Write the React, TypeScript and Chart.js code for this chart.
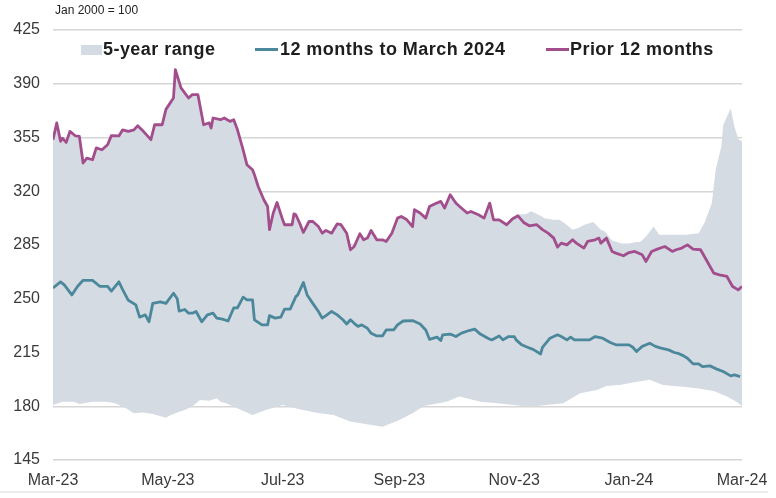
import React, { useEffect, useRef } from "react";
import { Chart, registerables } from "chart.js";

Chart.register(...registerables);

// x values are days since 1 Mar 2023
const tickDays = [0, 61, 122, 184, 245, 306, 366];
const tickLabels = ["Mar-23", "May-23", "Jul-23", "Sep-23", "Nov-23", "Jan-24", "Mar-24"];

const priorDays = [
  0, 2, 4, 5, 7, 9, 12, 14, 16, 18, 21, 23, 26, 29, 31, 35, 37, 40, 43, 45, 48, 52, 54, 58, 60, 64, 65, 68, 70, 72,
  74, 77, 80, 83, 84, 85, 89, 91, 94, 96, 98, 101, 103, 106, 107, 109, 112, 114, 115, 117, 119, 122, 123, 127, 128,
  129, 131, 133, 136, 138, 141, 143, 145, 148, 151, 153, 156, 158, 160, 163, 165, 167, 169, 172, 175, 177, 180, 183,
  185, 188, 191, 192, 195, 198, 200, 203, 206, 208, 211, 214, 216, 220, 222, 226, 229, 232, 234, 237, 241, 244, 247,
  250, 253, 257, 260, 263, 266, 268, 270, 273, 276, 278, 282, 284, 288, 290, 291, 294, 297, 299, 303, 306, 309, 313,
  315, 318, 321, 325, 329, 331, 334, 337, 340, 344, 347, 351, 354, 358, 361, 364, 366,
];
const priorValues = [
  353.6, 364.5, 352.5, 354.6, 351.8, 359, 356, 355.7, 338.4, 341.6, 340.5, 348.2, 347, 350.3, 356.2, 356, 360, 359,
  360, 362.7, 359, 353.6, 363.3, 363.3, 373.3, 380.7, 399.2, 387.3, 384, 380.7, 382.9, 382.9, 363.3, 364.5, 361.2,
  367.7, 366.6, 367.7, 365.5, 366.6, 360, 347, 337.3, 334, 330.8, 323.1, 314.5, 310.1, 295, 305.8, 312.7, 301.4, 298.2,
  298.2, 305.3, 304.7, 299.3, 293.2, 300.3, 300.3, 297, 292.7, 294.5, 292.7, 298.8, 298.2, 292.7, 281.9, 284, 292.3,
  288.4, 289.5, 294.5, 288.4, 288.4, 287.3, 292.7, 302.5, 303.6, 301.4, 297, 308, 305.8, 302.5, 310.1, 311.9, 313.4,
  309, 317.7, 312.3, 310.1, 305.8, 306.8, 304.7, 302.5, 312.3, 301.4, 301.4, 298.2, 301.9, 304, 299.7, 297.5, 298.2,
  295, 292.7, 289.5, 283.6, 286.2, 285.1, 288.4, 286.2, 283, 287.3, 288.4, 289.5, 286.2, 289.5, 280.8, 279.7, 278,
  280.1, 280.8, 278.6, 274.3, 280.8, 282.3, 284, 280.8, 281.9, 283, 285.1, 282.3, 281.9, 275.4, 266.7, 265.6, 264.5,
  258, 255.8, 258,
];

const recentDays = [
  0, 4, 6, 10, 13, 16, 21, 25, 29, 31, 35, 37, 40, 44, 46, 49, 51, 53, 57, 60, 64, 66, 67, 70, 72, 74, 76, 79, 82, 85,
  87, 90, 93, 96, 98, 101, 103, 106, 107, 111, 114, 115, 118, 121, 123, 126, 129, 130, 133, 135, 138, 141, 143, 145,
  148, 151, 154, 156, 158, 160, 162, 164, 167, 169, 172, 175, 177, 181, 183, 186, 191, 195, 198, 200, 204, 206, 207,
  211, 214, 217, 221, 224, 227, 231, 233, 237, 239, 242, 245, 246, 249, 252, 255, 259, 260, 264, 268, 270, 273, 275,
  277, 282, 285, 288, 292, 296, 299, 306, 308, 310, 313, 317, 320, 323, 327, 330, 332, 335, 337, 340, 343, 345, 349,
  353, 356, 360, 362, 365,
];
const recentValues = [
  257, 261, 259, 252.5, 258, 262, 262, 258, 258, 255, 261, 256, 249, 246, 238, 239.5, 235, 247, 248, 247, 253.6, 250,
  242, 243, 240.6, 240.6, 241.7, 235, 239.5, 240.6, 237.4, 236.7, 235.5, 244, 244, 251, 249.3, 249.3, 236.3, 233, 233,
  239, 237.4, 238, 243.2, 243.2, 251.4, 252.5, 260.6, 252.5, 247, 241.7, 237.4, 239, 241.7, 239.5, 236.3, 233.6,
  236.3, 234, 232, 233, 230.8, 227.5, 225.8, 225.8, 229.7, 229.7, 233, 235.5, 235.8, 233.6, 229.7, 223.6, 225, 222.8,
  226.5, 227, 225.4, 227.6, 229.3, 230.2, 227, 224.3, 223.2, 225.8, 223.2, 225.4, 225.4, 223.2, 220, 218.4, 217, 214,
  218.4, 224.3, 226.5, 225.4, 223.2, 225, 223.2, 223.2, 223.2, 225.4, 224.3, 221.5, 220, 220, 218.4, 215.6, 219, 221,
  219, 217.8, 216.7, 215, 214.5, 212.8, 211.3, 207.6, 207.6, 205.8, 206.3, 204, 202.6, 199.8, 200.4, 199.3,
];

// 5-year range: top edge follows the prior-year line until late October
const rangeHighDays = [
  0, 2, 4, 5, 7, 9, 12, 14, 16, 18, 21, 23, 26, 29, 31, 35, 37, 40, 43, 45, 48, 52, 54, 58, 60, 64, 65, 68, 70, 72,
  74, 77, 80, 83, 84, 85, 89, 91, 94, 96, 98, 101, 103, 106, 107, 109, 112, 114, 115, 117, 119, 122, 123, 127, 128,
  129, 131, 133, 136, 138, 141, 143, 145, 148, 151, 153, 156, 158, 160, 163, 165, 167, 169, 172, 175, 177, 180, 183,
  185, 188, 191, 192, 195, 198, 200, 203, 206, 208, 211, 214, 216, 220, 222, 226, 229, 232, 234, 237, 241, 244, 247,
  251, 254, 259, 261, 266, 269, 272, 276, 279, 282, 287, 291, 293, 297, 302, 306, 310, 312, 315, 319, 322, 329, 336,
  343, 346, 350, 352, 355, 356, 360, 362, 364, 366,
];
const rangeHighValues = [
  353.6, 364.5, 352.5, 354.6, 351.8, 359, 356, 355.7, 338.4, 341.6, 340.5, 348.2, 347, 350.3, 356.2, 356, 360, 359,
  360, 362.7, 359, 353.6, 363.3, 363.3, 373.3, 380.7, 399.2, 387.3, 384, 380.7, 382.9, 382.9, 363.3, 364.5, 361.2,
  367.7, 366.6, 367.7, 365.5, 366.6, 360, 347, 337.3, 334, 330.8, 323.1, 314.5, 310.1, 295, 305.8, 312.7, 301.4, 298.2,
  298.2, 305.3, 304.7, 299.3, 293.2, 300.3, 300.3, 297, 292.7, 294.5, 292.7, 298.8, 298.2, 292.7, 281.9, 284, 292.3,
  288.4, 289.5, 294.5, 288.4, 288.4, 287.3, 292.7, 302.5, 303.6, 301.4, 297, 308, 305.8, 302.5, 310.1, 311.9, 313.4,
  309, 317.7, 312.3, 310.1, 305.8, 306.8, 304.7, 302.5, 312.3, 301.4, 301.4, 298.2, 303, 305, 305, 307, 304, 302.5,
  301.5, 301.5, 299, 295, 296, 298, 300, 295, 294, 288, 286, 286, 287, 287, 290.6, 297, 291.6, 291.6, 291.6, 292.7,
  299.3, 312.3, 334, 349, 363, 374, 362, 354, 352.5,
];

const rangeLowDays = [
  0, 5, 11, 14, 21, 28, 33, 39, 43, 48, 53, 60, 62, 65, 71, 75, 78, 83, 87, 89, 92, 96, 106, 113, 122, 131, 140, 149,
  158, 166, 175, 184, 191, 197, 209, 216, 227, 236, 245, 253, 262, 271, 280, 289, 294, 301, 308, 317, 324, 333, 342,
  351, 358, 363, 366,
];
const rangeLowValues = [
  180.8, 183, 183, 181.5, 183, 183, 182, 178.6, 175.4, 176, 175, 172.5, 174, 175.4, 178, 180.8, 184.1, 183.6, 185.2,
  183, 181.9, 179.7, 174.3, 177.6, 180.8, 178, 175.8, 174.3, 170, 168.5, 166.7, 171.1, 175.4, 180.2, 183, 186.3, 183,
  181.9, 180.8, 179.7, 180.8, 181.9, 188.4, 190.6, 193.2, 193.9, 195.4, 197.2, 193.9, 192.8, 191.7, 189.9, 186.3, 183,
  180.2,
];

const yTicks = { min: 145, max: 425, step: 35 };

const RANGE_GREY = "#d5dbe3";
const TEAL = "#4b889b";
const PURPLE = "#a24e8d";
const FONT = '"Liberation Sans", Arial, sans-serif';

const toPoints = (days: number[], values: number[]) => days.map((d, i) => ({ x: d, y: values[i] }));

export default function App() {
  const chartRef = useRef<HTMLCanvasElement | null>(null);
  const chartInstance = useRef<Chart | null>(null);

  useEffect(() => {
    if (!chartRef.current) return;
    if (chartInstance.current) {
      chartInstance.current.destroy();
    }
    const ctx = chartRef.current.getContext("2d");
    if (!ctx) return;

    chartInstance.current = new Chart(ctx, {
      type: "line",
      data: {
        datasets: [
          {
            label: "Prior 12 months",
            data: toPoints(priorDays, priorValues),
            borderColor: PURPLE,
            borderWidth: 2.8,
            pointRadius: 0,
            fill: false,
            borderJoinStyle: "round",
          },
          {
            label: "12 months to March 2024",
            data: toPoints(recentDays, recentValues),
            borderColor: TEAL,
            borderWidth: 2.8,
            pointRadius: 0,
            fill: false,
            borderJoinStyle: "round",
          },
          {
            label: "5-year range",
            data: toPoints(rangeHighDays, rangeHighValues),
            borderWidth: 0,
            borderColor: "rgba(0,0,0,0)",
            backgroundColor: RANGE_GREY,
            pointRadius: 0,
            fill: "+1",
          },
          {
            label: "range low",
            data: toPoints(rangeLowDays, rangeLowValues),
            borderWidth: 0,
            borderColor: "rgba(0,0,0,0)",
            pointRadius: 0,
            fill: false,
          },
        ],
      },
      options: {
        animation: false,
        responsive: true,
        maintainAspectRatio: false,
        layout: { padding: { top: 30, right: 34, bottom: 0, left: 0 } },
        plugins: {
          legend: { display: false },
          tooltip: { enabled: false },
        },
        scales: {
          x: {
            type: "linear",
            min: tickDays[0],
            max: tickDays[tickDays.length - 1],
            grid: { display: false },
            border: { display: false },
            afterBuildTicks: (scale) => {
              scale.ticks = tickDays.map((v) => ({ value: v }));
            },
            afterFit: (scale) => {
              scale.height = 38;
            },
            ticks: {
              autoSkip: false,
              maxRotation: 0,
              padding: 3,
              color: "#3a3a3a",
              font: { family: FONT, size: 16 },
              callback: (value) => {
                const i = tickDays.indexOf(Number(value));
                return i >= 0 ? tickLabels[i] : "";
              },
            },
          },
          y: {
            min: yTicks.min,
            max: yTicks.max,
            grid: { color: "#d6d6d6", lineWidth: 1.5, drawTicks: false },
            border: { display: false },
            afterFit: (scale) => {
              scale.width = 53;
            },
            ticks: {
              stepSize: yTicks.step,
              padding: 13,
              color: "#3a3a3a",
              font: { family: FONT, size: 16 },
            },
          },
        },
      },
    });

    return () => {
      if (chartInstance.current) {
        chartInstance.current.destroy();
        chartInstance.current = null;
      }
    };
  }, []);

  const legendText: React.CSSProperties = {
    position: "absolute",
    top: 40,
    fontFamily: FONT,
    fontWeight: "bold",
    fontSize: 18,
    lineHeight: "18px",
    letterSpacing: "0.45px",
    color: "#1e1e1e",
    whiteSpace: "nowrap",
  };

  return (
    <div style={{ position: "fixed", left: 0, top: 0, width: 776, height: 498, background: "#fff" }}>
      <canvas ref={chartRef} />
      <div
        style={{
          position: "absolute",
          left: 55,
          top: 4,
          fontFamily: FONT,
          fontSize: 12,
          lineHeight: "12px",
          color: "#222",
        }}
      >
        Jan 2000 = 100
      </div>
      <div style={{ position: "absolute", left: 81, top: 45, width: 21, height: 10, background: RANGE_GREY }} />
      <div style={{ ...legendText, left: 103 }}>5-year range</div>
      <div style={{ position: "absolute", left: 255, top: 48, width: 23, height: 3, background: TEAL }} />
      <div style={{ ...legendText, left: 280 }}>12 months to March 2024</div>
      <div style={{ position: "absolute", left: 546, top: 48, width: 23, height: 3, background: PURPLE }} />
      <div style={{ ...legendText, left: 570 }}>Prior 12 months</div>
      <div style={{ position: "absolute", left: 0, top: 491, width: 768, height: 2, background: "#ececec" }} />
    </div>
  );
}
